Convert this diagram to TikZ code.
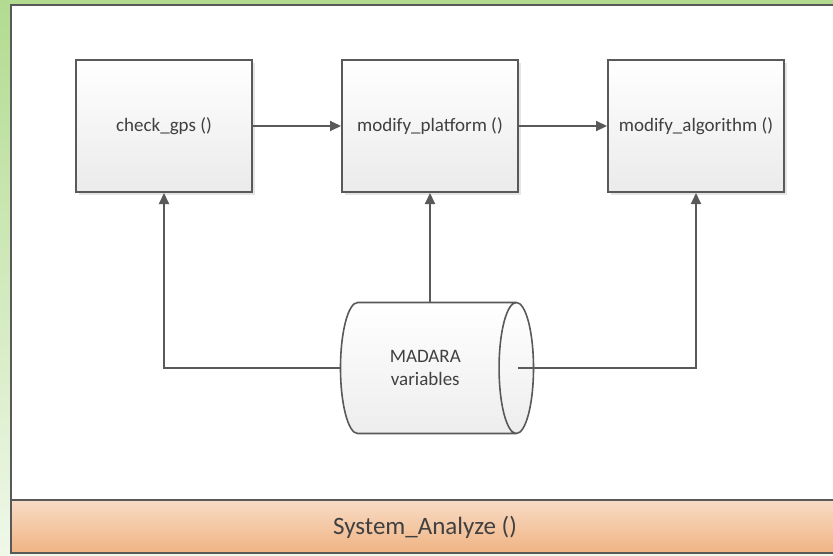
\documentclass[tikz,border=0pt]{standalone}
\usepackage{fontspec}
\setmainfont{Carlito}
\usetikzlibrary{arrows.meta,positioning,shapes.geometric,shadows}

\definecolor{linegray}{HTML}{595959}
\definecolor{textgray}{HTML}{404040}
\definecolor{bggreen}{HTML}{B2DB90}
\definecolor{barlight}{HTML}{F8DCC5}
\definecolor{bardark}{HTML}{F0B383}

\begin{document}
\begin{tikzpicture}[
  x=1pt, y=-1pt,
  node distance=88pt and 88pt,
  every node/.style={align=center, font=\fontsize{19}{23}\selectfont, text=textgray},
  func/.style={rectangle, draw=linegray, line width=2pt, minimum width=176pt, minimum height=132pt, top color=white, bottom color=black!8, drop shadow={shadow xshift=3pt, shadow yshift=-3pt, fill=black!10, opacity=1}},
  store/.style={cylinder, draw=linegray, line width=1.6pt, minimum height=193pt, minimum width=131pt, aspect=0.82, top color=white, bottom color=black!7},
  arrow/.style={-{Triangle[length=11pt, width=10pt]}, draw=linegray, line width=2pt}
]
\useasboundingbox (0,0) rectangle (833,555);

% --- BACKGROUND AND FRAME ---
\fill[top color=bggreen, bottom color=bggreen!20] (0,0) rectangle (833,555);
\fill[white] (11,5) rectangle (840,553);
\shade[top color=barlight, bottom color=bardark] (11,500) rectangle (840,553);
\draw[linegray, line width=2pt] (11,5) rectangle (840,553);
\draw[linegray, line width=2pt] (11,500) -- (840,500);
\node[font=\fontsize{25}{29}\selectfont] (sysname) at (425,527) {System\_Analyze ()};

% --- FUNCTION BOXES ---
\node[func] (gps) at (164,126) {check\_gps ()};
\node[func, right=of gps] (platform) {modify\_platform ()};
\node[func, right=of platform] (algorithm) {modify\_algorithm ()};

% --- KNOWLEDGE BASE ---
\node[store, anchor=shape center] (madara) at (437,368) {MADARA\\variables};

% --- FLOW ---
\draw[arrow] (gps) -- (platform);
\draw[arrow] (platform) -- (algorithm);

% --- VARIABLES TO FUNCTIONS ---
\draw[arrow] (madara.west) -| (gps.south);
\draw[arrow] (platform.south |- madara.north) -- (platform.south);
\draw[arrow] ([xshift=-16pt]madara.east) -| (algorithm.south);

\end{tikzpicture}
\end{document}
